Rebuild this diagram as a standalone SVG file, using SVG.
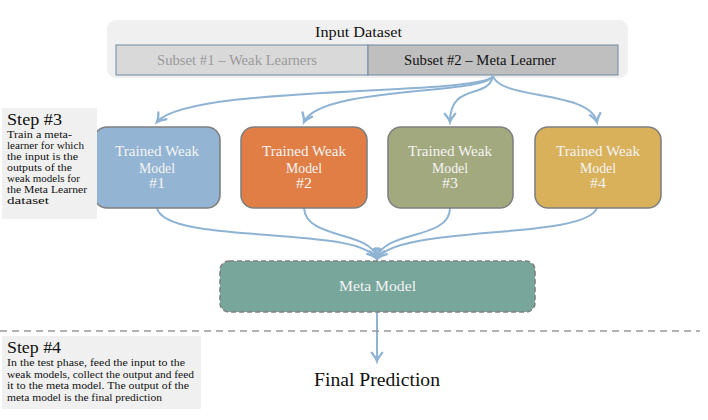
<svg xmlns="http://www.w3.org/2000/svg" width="708" height="420" viewBox="0 0 708 420">
<style>
.serif{font-family:"Liberation Serif","DejaVu Serif",serif;}
.node rect{stroke:#808080;stroke-width:1.6;}
.node text{fill:#f4f4f4;font-size:14.5px;text-anchor:middle;}
.edge{fill:none;stroke:#8fb3d3;stroke-width:2;marker-end:url(#arr);}
.note{fill:#f0f0f0;}
.ntitle{font-size:16px;fill:#111;}
.nbody{font-size:10.6px;fill:#111;}
</style>
<defs>
<marker id="arr" markerUnits="userSpaceOnUse" markerWidth="14" markerHeight="14" refX="0" refY="0" viewBox="-8 -6 10 12" orient="auto">
<path d="M-7,-4.5 Q-3,-1 0,0 Q-3,1 -7,4.5" fill="none" stroke="#8fb3d3" stroke-width="2" stroke-linecap="round"/>
</marker>
</defs>
<rect width="708" height="420" fill="#ffffff"/>

<g id="input-dataset">
<rect x="107" y="20" width="521" height="58" rx="9" fill="#f0f0f0"/>
<text class="serif" x="315" y="37" font-size="15.5" fill="#111" textLength="87" lengthAdjust="spacingAndGlyphs">Input Dataset</text>
</g>
<g id="subset1">
<rect x="116" y="45" width="252" height="30" fill="#d9d9d9" stroke="#6e8aa3" stroke-width="1"/>
<text class="serif" x="157" y="64.5" font-size="14" fill="#9a9a9a" textLength="160" lengthAdjust="spacingAndGlyphs">Subset #1 – Weak Learners</text>
</g>
<g id="subset2">
<rect x="368" y="45" width="250" height="30" fill="#bfbfbf" stroke="#6e8aa3" stroke-width="1"/>
<text class="serif" x="404" y="64.5" font-size="14" fill="#111" textLength="152" lengthAdjust="spacingAndGlyphs">Subset #2 – Meta Learner</text>
</g>

<g id="connectors">
<path class="edge" d="M493,76 C482,96 190,84 157,122"/>
<path class="edge" d="M493,76 C485,95 320,86 304,122"/>
<path class="edge" d="M493,76 C488,100 450,82 450,122"/>
<path class="edge" d="M493,76 C500,100 590,90 597,122"/>
<path class="edge" d="M157,208 C165,245 355,225 376,258"/>
<path class="edge" d="M304,208 C306,240 370,230 377,258"/>
<path class="edge" d="M450,208 C450,240 384,230 377,258"/>
<path class="edge" d="M597,208 C585,240 400,225 378,258"/>
<path class="edge" d="M377,312 L377,361"/>
</g>

<g id="node1" class="node serif">
<rect x="94" y="127" width="126" height="81" rx="13" fill="#93b4d2"/>
<text x="157" y="155.5" textLength="84" lengthAdjust="spacingAndGlyphs">Trained Weak</text>
<text x="157" y="172.5" textLength="36" lengthAdjust="spacingAndGlyphs">Model</text>
<text x="157" y="188" textLength="16" lengthAdjust="spacingAndGlyphs">#1</text>
</g>
<g id="node2" class="node serif">
<rect x="241" y="127" width="126" height="81" rx="13" fill="#e07e45"/>
<text x="304" y="155.5" textLength="84" lengthAdjust="spacingAndGlyphs">Trained Weak</text>
<text x="304" y="172.5" textLength="36" lengthAdjust="spacingAndGlyphs">Model</text>
<text x="304" y="188" textLength="16" lengthAdjust="spacingAndGlyphs">#2</text>
</g>
<g id="node3" class="node serif">
<rect x="388" y="127" width="125" height="81" rx="13" fill="#a3a97e"/>
<text x="450" y="155.5" textLength="84" lengthAdjust="spacingAndGlyphs">Trained Weak</text>
<text x="450" y="172.5" textLength="36" lengthAdjust="spacingAndGlyphs">Model</text>
<text x="450" y="188" textLength="16" lengthAdjust="spacingAndGlyphs">#3</text>
</g>
<g id="node4" class="node serif">
<rect x="535" y="127" width="126" height="81" rx="13" fill="#d8b15a"/>
<text x="598" y="155.5" textLength="84" lengthAdjust="spacingAndGlyphs">Trained Weak</text>
<text x="598" y="172.5" textLength="36" lengthAdjust="spacingAndGlyphs">Model</text>
<text x="598" y="188" textLength="16" lengthAdjust="spacingAndGlyphs">#4</text>
</g>

<g id="meta-model" class="serif">
<rect x="220" y="261" width="315" height="51" rx="9" fill="#78a69a" stroke="#808080" stroke-width="1.6" stroke-dasharray="5,3"/>
<text x="339" y="291" font-size="14.5" fill="#f4f4f4" textLength="77" lengthAdjust="spacingAndGlyphs">Meta Model</text>
</g>

<line x1="0" y1="331" x2="700" y2="331" stroke="#999" stroke-width="1.6" stroke-dasharray="7,5"/>

<g id="final-prediction" class="serif">
<text x="314" y="386" font-size="19" fill="#111" textLength="126" lengthAdjust="spacingAndGlyphs">Final Prediction</text>
</g>

<g id="step3" class="serif">
<rect class="note" x="2" y="108" width="95" height="111"/>
<text class="ntitle" x="7" y="125" textLength="55" lengthAdjust="spacingAndGlyphs">Step #3</text>
<text class="nbody" x="7" y="138" textLength="65" lengthAdjust="spacingAndGlyphs">Train a meta-</text>
<text class="nbody" x="7" y="149" textLength="77" lengthAdjust="spacingAndGlyphs">learner for which</text>
<text class="nbody" x="7" y="160" textLength="71" lengthAdjust="spacingAndGlyphs">the input is the</text>
<text class="nbody" x="7" y="171" textLength="65" lengthAdjust="spacingAndGlyphs">outputs of the</text>
<text class="nbody" x="7" y="182" textLength="73" lengthAdjust="spacingAndGlyphs">weak models for</text>
<text class="nbody" x="7" y="193" textLength="80" lengthAdjust="spacingAndGlyphs">the Meta Learner</text>
<text class="nbody" x="7" y="204" textLength="42" lengthAdjust="spacingAndGlyphs">dataset</text>
</g>

<g id="step4" class="serif">
<rect class="note" x="2" y="336" width="199" height="73"/>
<text class="ntitle" x="7" y="353" textLength="54" lengthAdjust="spacingAndGlyphs">Step #4</text>
<text class="nbody" x="7" y="366" textLength="178" lengthAdjust="spacingAndGlyphs">In the test phase, feed the input to the</text>
<text class="nbody" x="7" y="377.5" textLength="187" lengthAdjust="spacingAndGlyphs">weak models, collect the output and feed</text>
<text class="nbody" x="7" y="389" textLength="182" lengthAdjust="spacingAndGlyphs">it to the meta model. The output of the</text>
<text class="nbody" x="7" y="400.5" textLength="155" lengthAdjust="spacingAndGlyphs">meta model is the final prediction</text>
</g>
</svg>
